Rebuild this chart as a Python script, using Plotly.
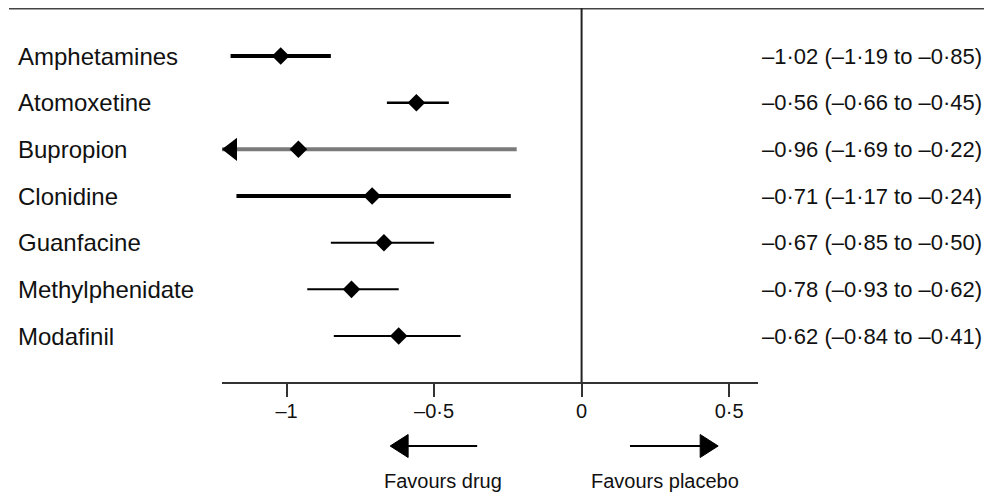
import plotly.graph_objects as go

# ---------------- data ----------------
drugs = ["Amphetamines", "Atomoxetine", "Bupropion", "Clonidine",
         "Guanfacine", "Methylphenidate", "Modafinil"]
estimate = [-1.02, -0.56, -0.96, -0.71, -0.67, -0.78, -0.62]
ci_low = [-1.19, -0.66, -1.69, -1.17, -0.85, -0.93, -0.84]
ci_high = [-0.85, -0.45, -0.22, -0.24, -0.50, -0.62, -0.41]
tick_vals = [-1, -0.5, 0, 0.5]
tick_text = ["\u20131", "\u20130\u00b75", "0", "0\u00b75"]

# ---------------- styles ----------------
line_widths = [4, 2.5, 4, 4, 2, 2, 2]
line_colors = ["#000000", "#000000", "#7a7a7a", "#000000", "#000000", "#000000", "#000000"]

X_MIN, X_MAX = -1.219, 0.598
FONT = "Liberation Sans, Arial, sans-serif"

W, H = 984, 494          # page adds an 8px body margin
L, R, T, B = 214, 234, 0, 120
PW = W - L - R           # plot width in px
PH = H - T - B           # plot height in px


def px_x(p):
    """figure pixel x -> paper x"""
    return (p - L) / PW


def px_y(p):
    """figure pixel y (from top) -> paper y"""
    return (H - B - p) / PH


def fmt(v):
    s = f"{abs(v):.2f}".replace(".", "\u00b7")
    return ("\u2013" + s) if v < 0 else s


fig = go.Figure()

ys = list(range(len(drugs)))
clipped_y, clipped_x = [], []
for i, d in enumerate(drugs):
    lo = max(ci_low[i], X_MIN)
    fig.add_trace(go.Scatter(
        x=[lo, ci_high[i]], y=[i, i], mode="lines",
        line=dict(color=line_colors[i], width=line_widths[i]),
        hoverinfo="skip", showlegend=False))
    if ci_low[i] < X_MIN:
        clipped_y.append(i)
        clipped_x.append(X_MIN + 0.034)

# arrowheads for CIs extending beyond the axis
if clipped_y:
    fig.add_trace(go.Scatter(
        x=clipped_x, y=clipped_y, mode="markers",
        marker=dict(symbol="triangle-left", size=20, color="#000000"),
        cliponaxis=False, hoverinfo="skip", showlegend=False))

# point estimates
fig.add_trace(go.Scatter(
    x=estimate, y=ys, mode="markers",
    marker=dict(symbol="diamond", size=13.5, color="#000000"),
    cliponaxis=False, showlegend=False,
    text=drugs, hovertemplate="%{text}: %{x}<extra></extra>"))

annotations = []
for i, d in enumerate(drugs):
    annotations.append(dict(
        x=px_x(8), xref="paper", y=i, yref="y",
        text=d, showarrow=False, xanchor="left", yanchor="middle",
        font=dict(family=FONT, size=24, color="#111111")))
    annotations.append(dict(
        x=px_x(752), xref="paper", y=i, yref="y",
        text=f"{fmt(estimate[i])} ({fmt(ci_low[i])} to {fmt(ci_high[i])})",
        showarrow=False, xanchor="left", yanchor="middle",
        font=dict(family=FONT, size=22, color="#111111")))

annotations.append(dict(x=-0.47, xref="x", y=px_y(473), yref="paper",
                        text="Favours drug", showarrow=False,
                        xanchor="center", yanchor="middle",
                        font=dict(family=FONT, size=20, color="#111111")))
annotations.append(dict(x=0.283, xref="x", y=px_y(473), yref="paper",
                        text="Favours placebo", showarrow=False,
                        xanchor="center", yanchor="middle",
                        font=dict(family=FONT, size=20, color="#111111")))

shapes = []
# top rule
shapes.append(dict(type="line", xref="paper", yref="paper",
                   x0=px_x(1), x1=px_x(979), y0=px_y(0.5), y1=px_y(0.5),
                   line=dict(color="#444444", width=2)))
# zero line
shapes.append(dict(type="line", xref="x", yref="paper",
                   x0=0, x1=0, y0=0, y1=1,
                   line=dict(color="#222222", width=2)))
# favours arrows
ay = px_y(438)
hh = 11.5 / PH
hl = 0.061
shapes.append(dict(type="line", xref="x", yref="paper",
                   x0=-0.354, x1=-0.60, y0=ay, y1=ay,
                   line=dict(color="#000000", width=2)))
shapes.append(dict(type="path", xref="x", yref="paper",
                   path=f"M {-0.649} {ay} L {-0.649 + hl} {ay + hh} L {-0.649 + hl} {ay - hh} Z",
                   fillcolor="#000000", line=dict(color="#000000", width=1)))
shapes.append(dict(type="line", xref="x", yref="paper",
                   x0=0.164, x1=0.41, y0=ay, y1=ay,
                   line=dict(color="#000000", width=2)))
shapes.append(dict(type="path", xref="x", yref="paper",
                   path=f"M {0.463} {ay} L {0.463 - hl} {ay + hh} L {0.463 - hl} {ay - hh} Z",
                   fillcolor="#000000", line=dict(color="#000000", width=1)))

fig.update_layout(
    width=W, height=H,
    margin=dict(l=L, r=R, t=T, b=B, pad=0),
    paper_bgcolor="white", plot_bgcolor="white",
    showlegend=False,
    annotations=annotations, shapes=shapes,
    xaxis=dict(range=[X_MIN, X_MAX], tickvals=tick_vals, ticktext=tick_text,
               showline=True, linecolor="#333333", linewidth=2,
               ticks="outside", ticklen=13, tickwidth=2, tickcolor="#333333",
               ticklabelstandoff=-3,
               showgrid=False, zeroline=False,
               tickfont=dict(family=FONT, size=20, color="#111111")),
    yaxis=dict(range=[(PH + 0) / 46.67 - 48 / 46.67, -48 / 46.67],
               visible=False, showgrid=False, zeroline=False),
)

fig.write_html("out.html")
